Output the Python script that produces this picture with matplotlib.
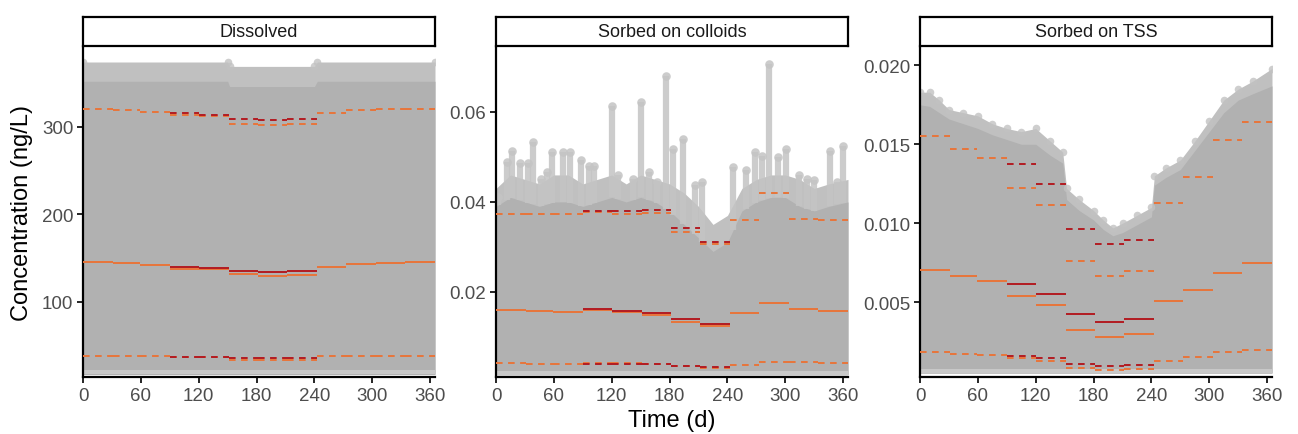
import matplotlib
matplotlib.use("Agg")
import matplotlib.pyplot as plt
import numpy as np

plt.rcParams['font.family'] = ['Liberation Sans', 'DejaVu Sans']

# month boundaries (days)
month_edges = [0, 31, 59, 90, 120, 151, 181, 212, 243, 273, 304, 334, 365]
red_months = [3, 4, 5, 6, 7]  # months where the red series differs

panel_titles = ['Dissolved', 'Sorbed on colloids', 'Sorbed on TSS']

# ---- Dissolved ----
diss_med_or = [145.4, 143.8, 141.5, 137.7, 137.7, 132.0, 129.4, 130.9, 140.0, 143.0, 144.6, 145.4]
diss_hi_or = [320.6, 319.0, 316.4, 313.0, 311.8, 303.0, 302.3, 302.6, 315.6, 318.6, 320.2, 320.6]
diss_lo_or = [37.9, 37.9, 37.9, 36.8, 36.5, 33.7, 33.3, 33.3, 37.5, 37.9, 37.9, 37.9]
diss_med_red = [139.6, 138.5, 135.4, 133.9, 135.4]
diss_hi_red = [315.2, 314.0, 308.8, 308.0, 308.8]
diss_lo_red = [37.2, 37.2, 35.6, 35.3, 35.3]
diss_cloud_days = [0, 150, 152, 240, 243, 365]
diss_cloud_top = [374, 374, 369, 369, 374, 374]
diss_cloud_mid = [352, 352, 346, 346, 352, 352]
diss_cloud_low = [17, 17, 17, 17, 17, 17]

# ---- Sorbed on colloids ----
coll_med_or = [0.01607, 0.01578, 0.01548, 0.01607, 0.01563, 0.01482, 0.01340, 0.01238, 0.01533, 0.01756, 0.01630, 0.01578]
coll_hi_or = [0.03727, 0.03727, 0.03730, 0.03771, 0.03740, 0.03748, 0.03340, 0.03067, 0.03607, 0.04200, 0.03630, 0.03593]
coll_lo_or = [0.00422, 0.00407, 0.00407, 0.00415, 0.00415, 0.00400, 0.00349, 0.00318, 0.00385, 0.00452, 0.00437, 0.00422]
coll_med_red = [0.01622, 0.01578, 0.01540, 0.01393, 0.01289]
coll_hi_red = [0.03793, 0.03793, 0.03815, 0.03415, 0.03111]
coll_lo_red = [0.00400, 0.00400, 0.00393, 0.00363, 0.00333]
coll_cloud_days = [0, 15, 30, 45, 60, 75, 90, 105, 120, 135, 150, 165, 180, 195, 210, 225, 240, 255, 270, 285, 300, 315, 330, 345, 365]
coll_cloud_top = [0.043, 0.046, 0.045, 0.044, 0.046, 0.046, 0.044, 0.045, 0.046, 0.044, 0.046, 0.045, 0.044,
                  0.042, 0.039, 0.035, 0.037, 0.043, 0.045, 0.046, 0.046, 0.045, 0.043, 0.044, 0.045]
coll_cloud_mid = [0.039, 0.041, 0.040, 0.039, 0.040, 0.040, 0.039, 0.040, 0.041, 0.040, 0.041, 0.040, 0.038,
                  0.035, 0.032, 0.029, 0.031, 0.038, 0.040, 0.041, 0.041, 0.039, 0.038, 0.039, 0.040]
coll_cloud_low = [0.0016] * 25
coll_spike_days = [2, 11, 17, 25, 33, 38, 47, 53, 58, 69, 77, 88, 96, 102, 120, 126, 142, 150, 159, 167, 176,
                   184, 194, 206, 214, 246, 259, 269, 276, 283, 292, 301, 314, 323, 330, 346, 354, 360]
coll_spike_tops = [0.0411, 0.0489, 0.0514, 0.0486, 0.0486, 0.0533, 0.0452, 0.0467, 0.0510, 0.0512, 0.0512,
                   0.0494, 0.0480, 0.0480, 0.0614, 0.0460, 0.0452, 0.0622, 0.0467, 0.0445, 0.0680, 0.0518,
                   0.0540, 0.0437, 0.0445, 0.0478, 0.0470, 0.0511, 0.0503, 0.0707, 0.0500, 0.0518, 0.0460,
                   0.0452, 0.0449, 0.0514, 0.0445, 0.0525]

# ---- Sorbed on TSS ----
tss_med_or = [0.00704, 0.00663, 0.00633, 0.00540, 0.00483, 0.00325, 0.00280, 0.00295, 0.00504, 0.00576, 0.00685, 0.00745]
tss_hi_or = [0.01550, 0.01468, 0.01411, 0.01220, 0.01112, 0.00761, 0.00667, 0.00694, 0.01126, 0.01293, 0.01530, 0.01644]
tss_lo_or = [0.00185, 0.00173, 0.00167, 0.00144, 0.00127, 0.00080, 0.00070, 0.00074, 0.00128, 0.00154, 0.00182, 0.00198]
tss_med_red = [0.00614, 0.00550, 0.00424, 0.00373, 0.00392]
tss_hi_red = [0.01375, 0.01251, 0.00964, 0.00866, 0.00893]
tss_lo_red = [0.00160, 0.00144, 0.00108, 0.00097, 0.00101]
tss_cloud_days = [0, 10, 20, 30, 45, 60, 75, 90, 105, 120, 135, 148, 152, 165, 180, 190, 200, 210, 225, 240,
                  243, 255, 270, 285, 300, 315, 330, 345, 365]
tss_cloud_top = [0.0183, 0.0183, 0.0178, 0.0172, 0.0170, 0.0168, 0.0163, 0.0160, 0.0158, 0.0160, 0.0152, 0.0145,
                 0.0122, 0.0115, 0.0108, 0.0102, 0.0097, 0.0100, 0.0105, 0.0110, 0.0130, 0.0135, 0.0140, 0.0152,
                 0.0165, 0.0178, 0.0185, 0.0190, 0.0198]
tss_cloud_mid = [0.0175, 0.0174, 0.0170, 0.0166, 0.0163, 0.0160, 0.0156, 0.0153, 0.0150, 0.0150, 0.0143, 0.0138,
                 0.0115, 0.0108, 0.0102, 0.0096, 0.0092, 0.0094, 0.0099, 0.0104, 0.0124, 0.0129, 0.0134, 0.0146,
                 0.0158, 0.0170, 0.0178, 0.0182, 0.0187]
tss_cloud_low = [0.0005] * 29

panels = [
    dict(med_or=diss_med_or, hi_or=diss_hi_or, lo_or=diss_lo_or, med_red=diss_med_red, hi_red=diss_hi_red,
         lo_red=diss_lo_red, days=diss_cloud_days, top=diss_cloud_top, mid=diss_cloud_mid, low=diss_cloud_low,
         ylim=(14, 390), yticks=[100, 200, 300], ylabels=['100', '200', '300']),
    dict(med_or=coll_med_or, hi_or=coll_hi_or, lo_or=coll_lo_or, med_red=coll_med_red, hi_red=coll_hi_red,
         lo_red=coll_lo_red, days=coll_cloud_days, top=coll_cloud_top, mid=coll_cloud_mid, low=coll_cloud_low,
         ylim=(0.0011, 0.0742), yticks=[0.02, 0.04, 0.06], ylabels=['0.02', '0.04', '0.06']),
    dict(med_or=tss_med_or, hi_or=tss_hi_or, lo_or=tss_lo_or, med_red=tss_med_red, hi_red=tss_hi_red,
         lo_red=tss_lo_red, days=tss_cloud_days, top=tss_cloud_top, mid=tss_cloud_mid, low=tss_cloud_low,
         ylim=(0.00025, 0.0211), yticks=[0.005, 0.010, 0.015, 0.020],
         ylabels=['0.005', '0.010', '0.015', '0.020']),
]

ORANGE = '#E8753A'
RED = '#B31B22'
DASH = (0, (3.4, 2.8))

W, H = 1298, 435
fig = plt.figure(figsize=(W / 100, H / 100), dpi=100)

lefts = [83, 496, 920]
pw = 352
ax_bottom, ax_top = 378, 49
strip_bottom, strip_top = 47, 18


def segs(ax, vals, months, color, ls):
    for v, m in zip(vals, months):
        ax.plot([month_edges[m], month_edges[m + 1]], [v, v], color=color, lw=1.4, ls=ls,
                solid_capstyle='butt', dash_capstyle='butt', zorder=4)


for i, p in enumerate(panels):
    ax = fig.add_axes([lefts[i] / W, 1 - ax_bottom / H, pw / W, (ax_bottom - ax_top) / H])
    ax.fill_between(p['days'], p['low'], p['top'], color='#C0C0C0', lw=0, zorder=1)
    ax.fill_between(p['days'], p['low'], p['mid'], color='#B1B1B1', lw=0, zorder=1)
    # lighter band right at the bottom of the cloud
    lo = np.array(p['low'])
    span = p['ylim'][1] - p['ylim'][0]
    ax.fill_between(p['days'], lo, lo + 0.012 * span, color='#C8C8C8', lw=0, zorder=1)
    if i == 1:
        base = np.interp(coll_spike_days, coll_cloud_days, coll_cloud_mid)
        ax.vlines(coll_spike_days, base, coll_spike_tops, color='#C4C4C4', lw=4.5, alpha=0.85, zorder=1)
        ax.scatter(coll_spike_days, coll_spike_tops, s=38, color='#C4C4C4', alpha=0.85, lw=0, zorder=1)
    else:
        ax.scatter(p['days'], p['top'], s=30, color='#C2C2C2', alpha=0.8, lw=0, zorder=1)

    all_months = list(range(12))
    segs(ax, p['med_or'], all_months, ORANGE, '-')
    segs(ax, p['hi_or'], all_months, ORANGE, DASH)
    segs(ax, p['lo_or'], all_months, ORANGE, DASH)
    segs(ax, p['med_red'], red_months, RED, '-')
    segs(ax, p['hi_red'], red_months, RED, DASH)
    segs(ax, p['lo_red'], red_months, RED, DASH)

    ax.set_xlim(0, 365)
    ax.set_ylim(*p['ylim'])
    ax.set_xticks([0, 60, 120, 180, 240, 300, 360])
    ax.set_yticks(p['yticks'])
    ax.set_yticklabels(p['ylabels'])
    for s in ['top', 'right']:
        ax.spines[s].set_visible(False)
    for s in ['left', 'bottom']:
        ax.spines[s].set_linewidth(1.6)
        ax.spines[s].set_color('black')
    ax.tick_params(axis='both', length=4, width=1.2, color='black', labelcolor='#4D4D4D',
                   labelsize=13.5, pad=3)

    sax = fig.add_axes([lefts[i] / W, 1 - strip_bottom / H, pw / W, (strip_bottom - strip_top) / H])
    sax.set_xticks([])
    sax.set_yticks([])
    for s in sax.spines.values():
        s.set_linewidth(1.6)
        s.set_color('black')
    sax.text(0.5, 0.5, panel_titles[i], ha='center', va='center', fontsize=13, color='#1A1A1A',
             transform=sax.transAxes)

fig.text(22 / W, 1 - 213 / H, 'Concentration (ng/L)', rotation=90, ha='center', va='center', fontsize=17)
fig.text(672 / W, 1 - 421 / H, 'Time (d)', ha='center', va='center', fontsize=17)

fig.savefig('out.png', dpi=100)
